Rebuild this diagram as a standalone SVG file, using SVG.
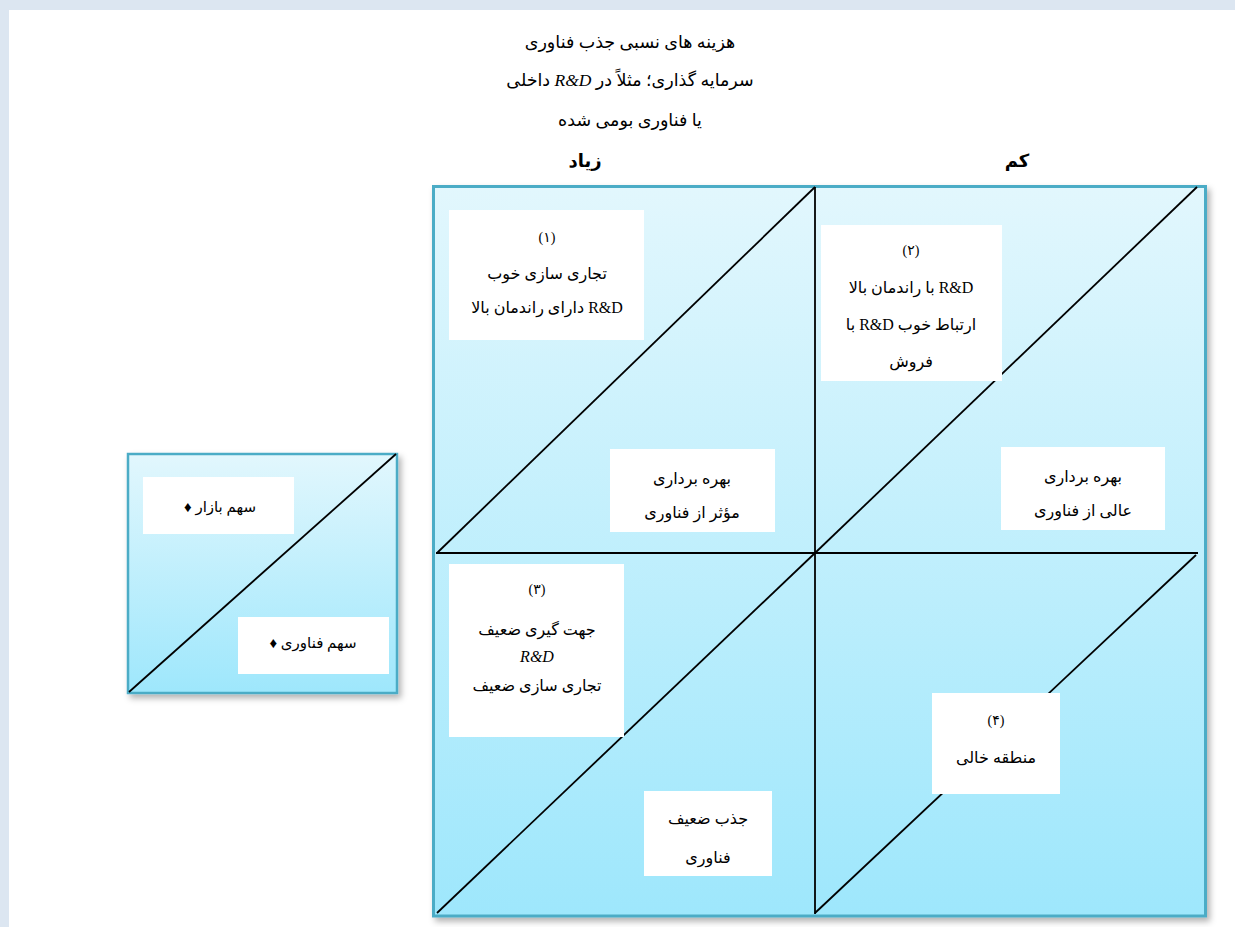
<svg xmlns="http://www.w3.org/2000/svg" width="1235" height="927" viewBox="0 0 1235 927">
<defs>
<linearGradient id="bg" x1="0" y1="0" x2="0" y2="1">
<stop offset="0" stop-color="#e2f7fd"/>
<stop offset="1" stop-color="#9ee7fc"/>
</linearGradient>
<filter id="sh" x="-5%" y="-5%" width="112%" height="112%">
<feDropShadow dx="3" dy="4" stdDeviation="3" flood-color="#000" flood-opacity="0.3"/>
</filter>
<style>
.frame{fill:url(#bg);stroke:#4bacc6;stroke-width:3;filter:url(#sh)}
.box{fill:#ffffff}
.ln{stroke:#000;stroke-width:1.8;fill:none}
text{font-family:"Liberation Serif","DejaVu Sans",serif;font-size:16px;fill:#000;text-anchor:middle}
.n{font-size:14px}
.s{font-size:15px}
.t{font-size:17.5px}
.b{font-size:18px;font-weight:bold}
.it{font-style:italic;font-family:"Liberation Serif",serif}
</style>
</defs>
<rect x="0" y="0" width="1235" height="927" fill="#dce6f1"/>
<rect x="9" y="10" width="1226" height="917" fill="#ffffff"/>

<g id="title">
<text class="t" x="630" y="48" direction="rtl">هزینه های نسبی جذب فناوری</text>
<text class="t" x="630" y="86" direction="rtl">سرمایه گذاری؛ مثلاً در <tspan class="it">R&amp;D</tspan> داخلی</text>
<text class="t" x="630" y="126" direction="rtl">یا فناوری بومی شده</text>
<text class="b" x="585" y="167" direction="rtl">زیاد</text>
<text class="b" x="1017" y="167" direction="rtl">کم</text>
</g>

<g id="matrix">
<rect class="frame" x="433.5" y="186.5" width="772" height="729.5"/>
</g>

<g id="connectors">
<line class="ln" x1="815" y1="187" x2="815" y2="914"/>
<line class="ln" x1="436" y1="553" x2="1198" y2="553"/>
<line class="ln" x1="437" y1="553" x2="815" y2="187"/>
<line class="ln" x1="815" y1="553" x2="1197" y2="187"/>
<line class="ln" x1="437" y1="913" x2="815" y2="553"/>
<line class="ln" x1="815" y1="913" x2="1196" y2="555"/>
<line class="ln" x1="129" y1="692" x2="396" y2="454"/>
</g>

<g id="q1">
<rect class="box" x="449" y="210" width="195" height="130"/>
<text class="n" x="547" y="242" direction="rtl">(۱)</text>
<text x="547" y="279" direction="rtl">تجاری سازی خوب</text>
<text x="547" y="313" direction="rtl">R&amp;D دارای راندمان بالا</text>
</g>

<g id="q2">
<rect class="box" x="821" y="225" width="181" height="156"/>
<text class="n" x="911" y="255" direction="rtl">(۲)</text>
<text x="911" y="293" direction="rtl">R&amp;D با راندمان بالا</text>
<text x="911" y="330" direction="rtl">ارتباط خوب R&amp;D با</text>
<text x="911" y="367" direction="rtl">فروش</text>
</g>

<g id="q1b">
<rect class="box" x="610" y="449" width="165" height="83"/>
<text x="692" y="484" direction="rtl">بهره برداری</text>
<text x="692" y="518" direction="rtl">مؤثر از فناوری</text>
</g>

<g id="q2b">
<rect class="box" x="1001" y="447" width="164" height="83"/>
<text x="1083" y="482" direction="rtl">بهره برداری</text>
<text x="1083" y="516" direction="rtl">عالی از فناوری</text>
</g>

<g id="q3">
<rect class="box" x="449" y="564" width="175" height="173"/>
<text class="n" x="537" y="594" direction="rtl">(۳)</text>
<text x="537" y="635" direction="rtl">جهت گیری ضعیف</text>
<text class="it" x="537" y="662">R&amp;D</text>
<text x="537" y="691" direction="rtl">تجاری سازی ضعیف</text>
</g>

<g id="q3b">
<rect class="box" x="644" y="791" width="128" height="85"/>
<text x="708" y="824" direction="rtl">جذب ضعیف</text>
<text x="708" y="863" direction="rtl">فناوری</text>
</g>

<g id="q4">
<rect class="box" x="932" y="693" width="128" height="101"/>
<text class="n" x="996" y="725" direction="rtl">(۴)</text>
<text x="996" y="763" direction="rtl">منطقه خالی</text>
</g>

<g id="legend">
<rect class="frame" x="128" y="454" width="269" height="239" style="stroke-width:2.5"/>
<rect class="box" x="143" y="477" width="151" height="57"/>
<text class="s" x="220" y="512" direction="rtl">سهم بازار ♦</text>
<rect class="box" x="238" y="617" width="151" height="57"/>
<text class="s" x="313" y="648" direction="rtl">سهم فناوری ♦</text>
<line class="ln" x1="129" y1="692" x2="396" y2="454"/>
</g>
</svg>
